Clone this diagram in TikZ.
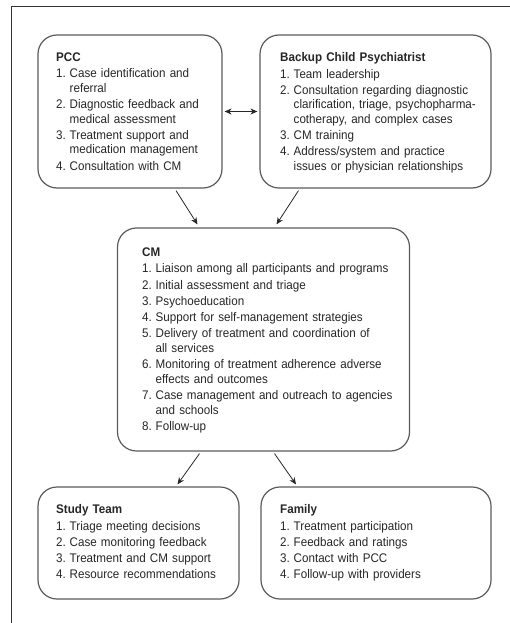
\documentclass[tikz,border=0pt]{standalone}
\usepackage{fontspec}
\setmainfont{Liberation Sans}[FakeStretch=0.93]
\usetikzlibrary{arrows.meta,calc}
\definecolor{boxline}{HTML}{5A5A5A}
\definecolor{txt}{HTML}{262626}
\newcommand\ttl[1]{\textbf{#1}\par}
\newcommand\itm[2]{\hangindent=13.5pt\hangafter=1\noindent\makebox[13.5pt][l]{#1}#2\par}
\tikzset{
  rbox/.style={draw=boxline,line width=1.2pt,rounded corners=19pt,minimum width=#1,inner sep=0pt},
  btext/.style={anchor=north west,inner sep=0pt,text width=300pt,text=txt,
    font=\fontsize{12.5}{14.5}\selectfont,
    execute at begin node={\setlength\parskip{1.8pt}\raggedright}},
  arr/.style={draw=txt,line width=0.8pt,-{Stealth[length=7pt,width=6pt]}},
  darr/.style={draw=txt,line width=0.8pt,{Stealth[length=7pt,width=6pt]}-{Stealth[length=7pt,width=6pt]}},
  frame/.style={draw=black!80,line width=1pt}
}
\begin{document}
\begin{tikzpicture}[x=1pt,y=-1pt]
\useasboundingbox (0,0) rectangle (510,623);
\draw[frame] (510,7) -- (11,7) -- (11,623);
% boxes
\node[rbox=184pt,minimum height=153pt] (pcc) at (130,111.5) {};
\node[rbox=231pt,minimum height=153pt] (bcp) at (375.5,111.5) {};
\node[rbox=292pt,minimum height=223pt] (cm) at (263.5,339.5) {};
\node[rbox=201pt,minimum height=112pt] (st) at (138.5,543) {};
\node[rbox=230pt,minimum height=112pt] (fam) at (376,543) {};
% texts
\node[btext] (pcct) at (56,52.5) {\ttl{PCC}
\itm{1.}{Case identification and\newline referral}
\itm{2.}{Diagnostic feedback and\newline medical assessment}
\itm{3.}{Treatment support and\newline medication management}
\itm{4.}{Consultation with CM}};
\node[btext] (bcpt) at (280,52.5) {\ttl{Backup Child Psychiatrist}
\itm{1.}{Team leadership}
\itm{2.}{Consultation regarding diagnostic\newline clarification, triage, psychopharma-\newline cotherapy, and complex cases}
\itm{3.}{CM training}
\itm{4.}{Address/system and practice\newline issues or physician relationships}};
\node[btext] (cmt) at (142,247.5) {\ttl{CM}
\itm{1.}{Liaison among all participants and programs}
\itm{2.}{Initial assessment and triage}
\itm{3.}{Psychoeducation}
\itm{4.}{Support for self-management strategies}
\itm{5.}{Delivery of treatment and coordination of\newline all services}
\itm{6.}{Monitoring of treatment adherence adverse\newline effects and outcomes}
\itm{7.}{Case management and outreach to agencies\newline and schools}
\itm{8.}{Follow-up}};
\node[btext] (stt) at (56,504.5) {\ttl{Study Team}
\itm{1.}{Triage meeting decisions}
\itm{2.}{Case monitoring feedback}
\itm{3.}{Treatment and CM support}
\itm{4.}{Resource recommendations}};
\node[btext] (famt) at (280,504.5) {\ttl{Family}
\itm{1.}{Treatment participation}
\itm{2.}{Feedback and ratings}
\itm{3.}{Contact with PCC}
\itm{4.}{Follow-up with providers}};
% connectors
\draw[darr] ([xshift=2pt]pcc.east) -- ([xshift=-2pt]bcp.west);
\draw[arr] ([xshift=46pt,yshift=-2pt]pcc.south) -- ([xshift=-66pt,yshift=3pt]cm.north);
\draw[arr] ([xshift=-77pt,yshift=-2pt]bcp.south) -- ([xshift=13pt,yshift=3pt]cm.north);
\draw[arr] ([xshift=-64pt,yshift=-2pt]cm.south) -- ([xshift=39pt,yshift=2pt]st.north);
\draw[arr] ([xshift=11pt,yshift=-2pt]cm.south) -- ([xshift=-80pt,yshift=2pt]fam.north);
\end{tikzpicture}
\end{document}
